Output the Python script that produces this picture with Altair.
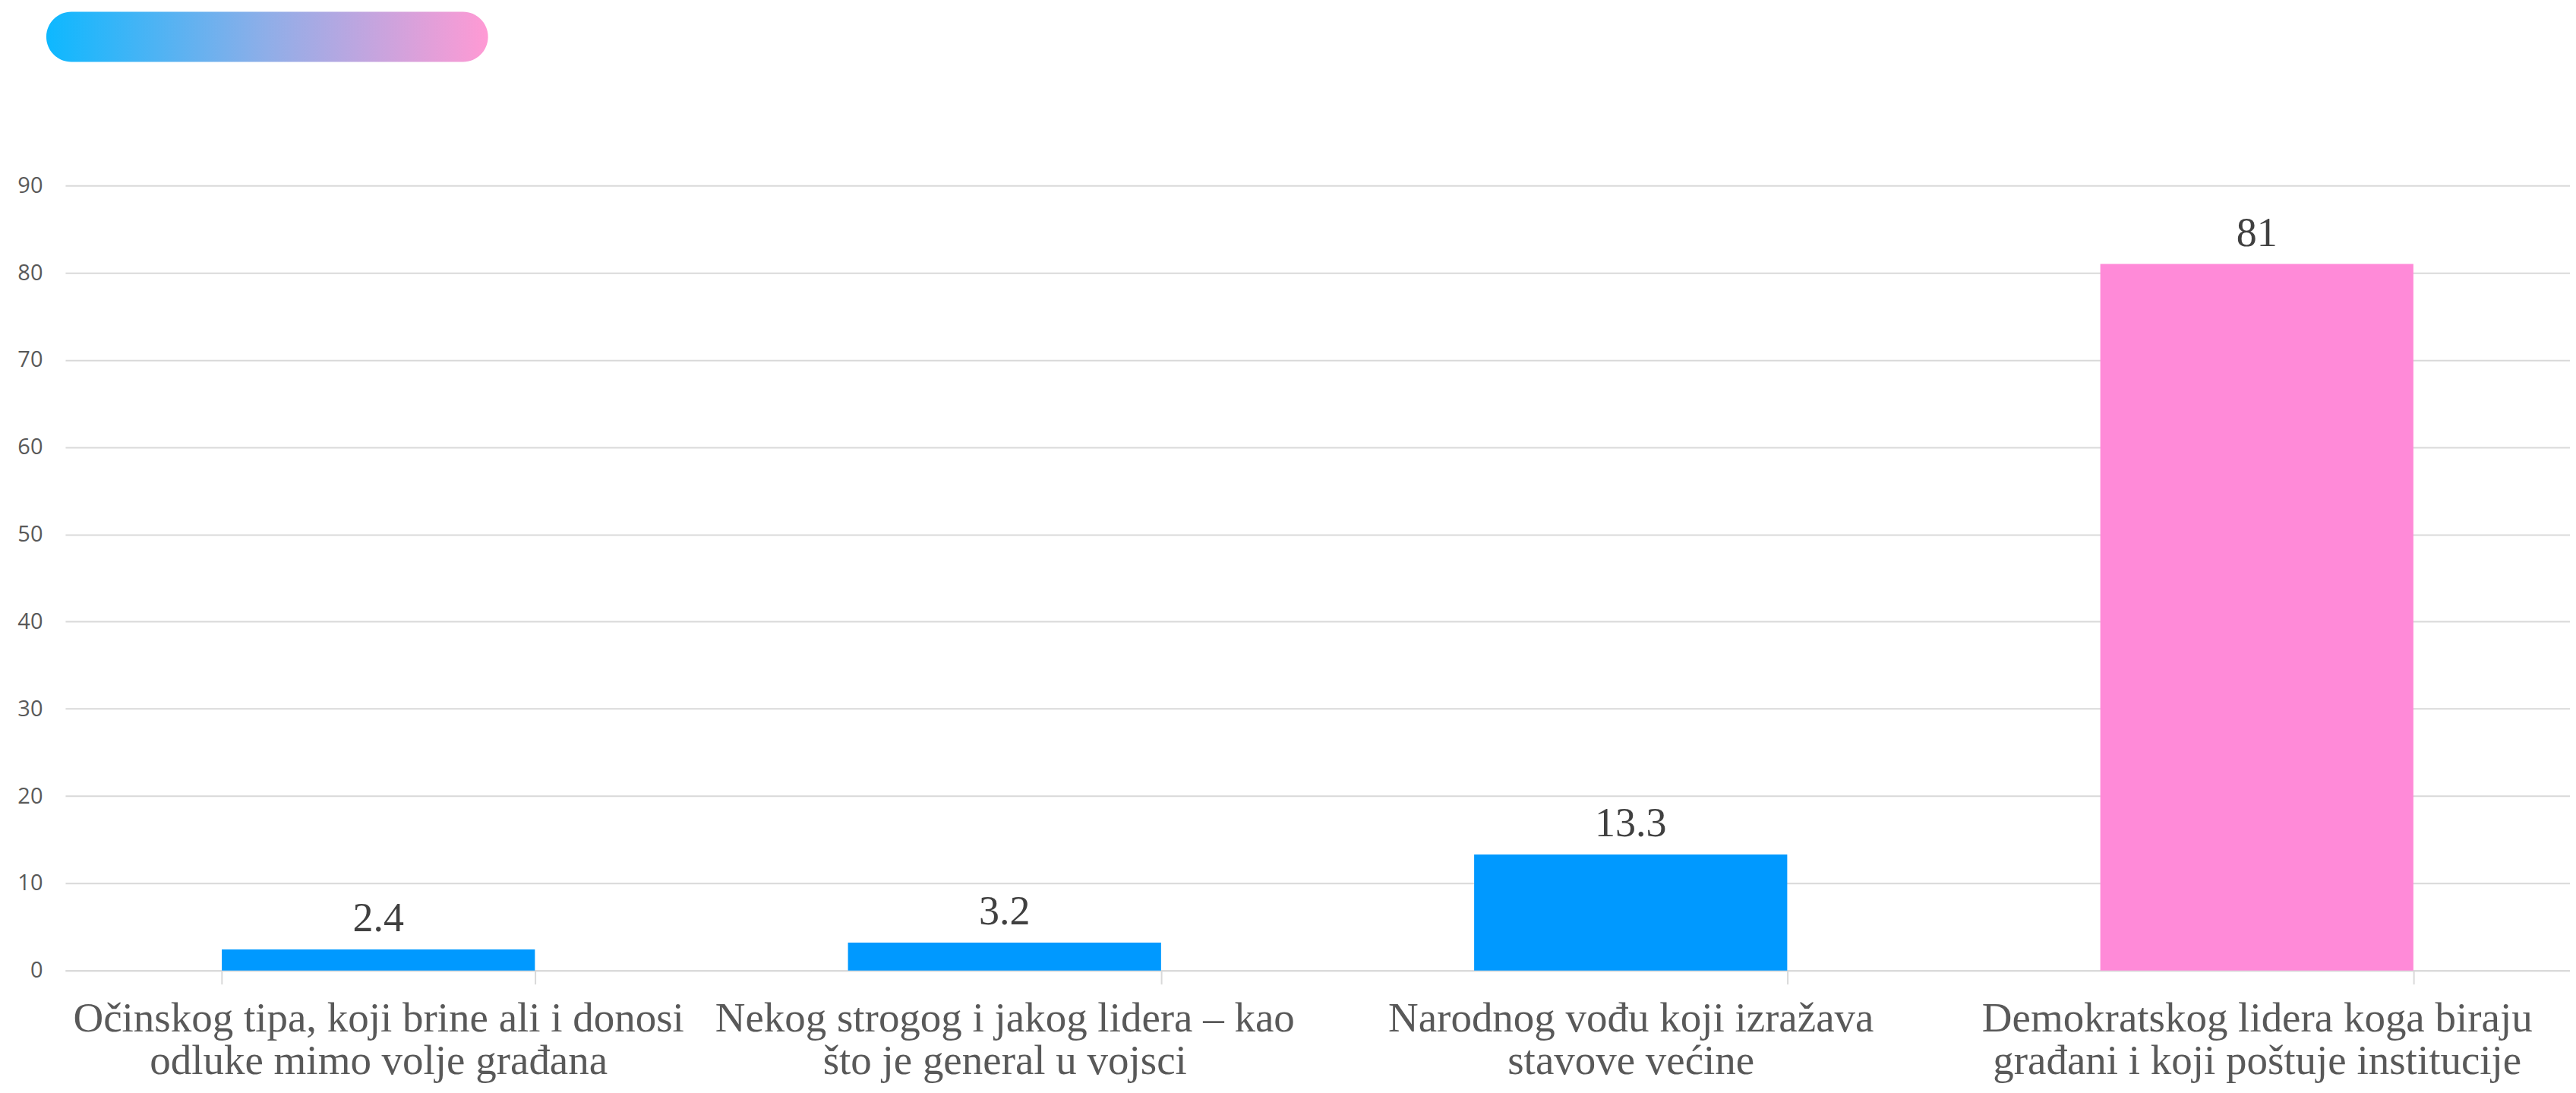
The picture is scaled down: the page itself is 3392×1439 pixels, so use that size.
import altair as alt
import pandas as pd

categories = [
    "Očinskog tipa, koji brine ali i donosi\nodluke mimo volje građana",
    "Nekog strogog i jakog lidera – kao\nšto je general u vojsci",
    "Narodnog vođu koji izražava\nstavove većine",
    "Demokratskog lidera koga biraju\ngrađani i koji poštuje institucije",
]
values = [2.4, 3.2, 13.3, 81]
value_labels = ["2.4", "3.2", "13.3", "81"]
groups = ["ostalo", "ostalo", "ostalo", "istaknuto"]
y_ticks = [0, 10, 20, 30, 40, 50, 60, 70, 80, 90]

df = pd.DataFrame({"cat": categories, "value": values, "label": value_labels, "grp": groups})

x_enc = alt.X(
    "cat:N",
    sort=categories,
    scale=alt.Scale(paddingInner=0.5, paddingOuter=0.25),
    axis=alt.Axis(
        title=None,
        labelAngle=0,
        labelExpr="split(datum.label, '\\n')",
        labelFont="Liberation Serif",
        labelFontSize=55,
        labelColor="#595959",
        labelLineHeight=56,
        labelPadding=19,
        labelLimit=2000,
        labelOverlap=False,
        tickBand="extent",
        tickSize=18,
        tickColor="#D9D9D9",
        tickWidth=2,
        domainColor="#D9D9D9",
        domainWidth=2,
        grid=False,
    ),
)
y_enc = alt.Y(
    "value:Q",
    scale=alt.Scale(domain=[0, 90], nice=False),
    axis=alt.Axis(
        values=y_ticks,
        title=None,
        domain=False,
        ticks=False,
        labelPadding=30,
        labelFont="Open Sans",
        labelFontSize=29,
        labelColor="#595959",
        gridColor="#D9D9D9",
        gridWidth=2,
    ),
)

base = alt.Chart(df)
bars = base.mark_bar().encode(
    x=x_enc,
    y=y_enc,
    color=alt.Color(
        "grp:N",
        scale=alt.Scale(domain=["ostalo", "istaknuto"], range=["#0099FF", "#FF8AD8"]),
        legend=None,
    ),
)
texts = base.mark_text(
    baseline="alphabetic", dy=-24, font="Liberation Serif", fontSize=54, color="#404040"
).encode(x=alt.X("cat:N", sort=categories), y="value:Q", text="label:N")

pill = alt.Chart(pd.DataFrame({"a": [0]})).mark_rect(
    cornerRadius=33,
    color=alt.Gradient(
        gradient="linear",
        stops=[
            alt.GradientStop(offset=0, color="#0DB8FF"),
            alt.GradientStop(offset=0.5, color="#8FAEE8"),
            alt.GradientStop(offset=1, color="#FF9AD4"),
        ],
        x1=0, x2=1, y1=0, y2=0,
    ),
).encode(x=alt.value(-25), x2=alt.value(557), y=alt.value(-229), y2=alt.value(-163))

chart = (
    alt.layer(bars, texts, pill)
    .properties(
        width=3300,
        height=1034,
        autosize=alt.AutoSizeParams(type="none"),
        padding={"left": 78, "top": 236, "right": 0, "bottom": 152},
        background="white",
    )
    .configure_view(stroke=None)
)

chart.save("out.html", embed_options={"renderer": "svg", "actions": False})
